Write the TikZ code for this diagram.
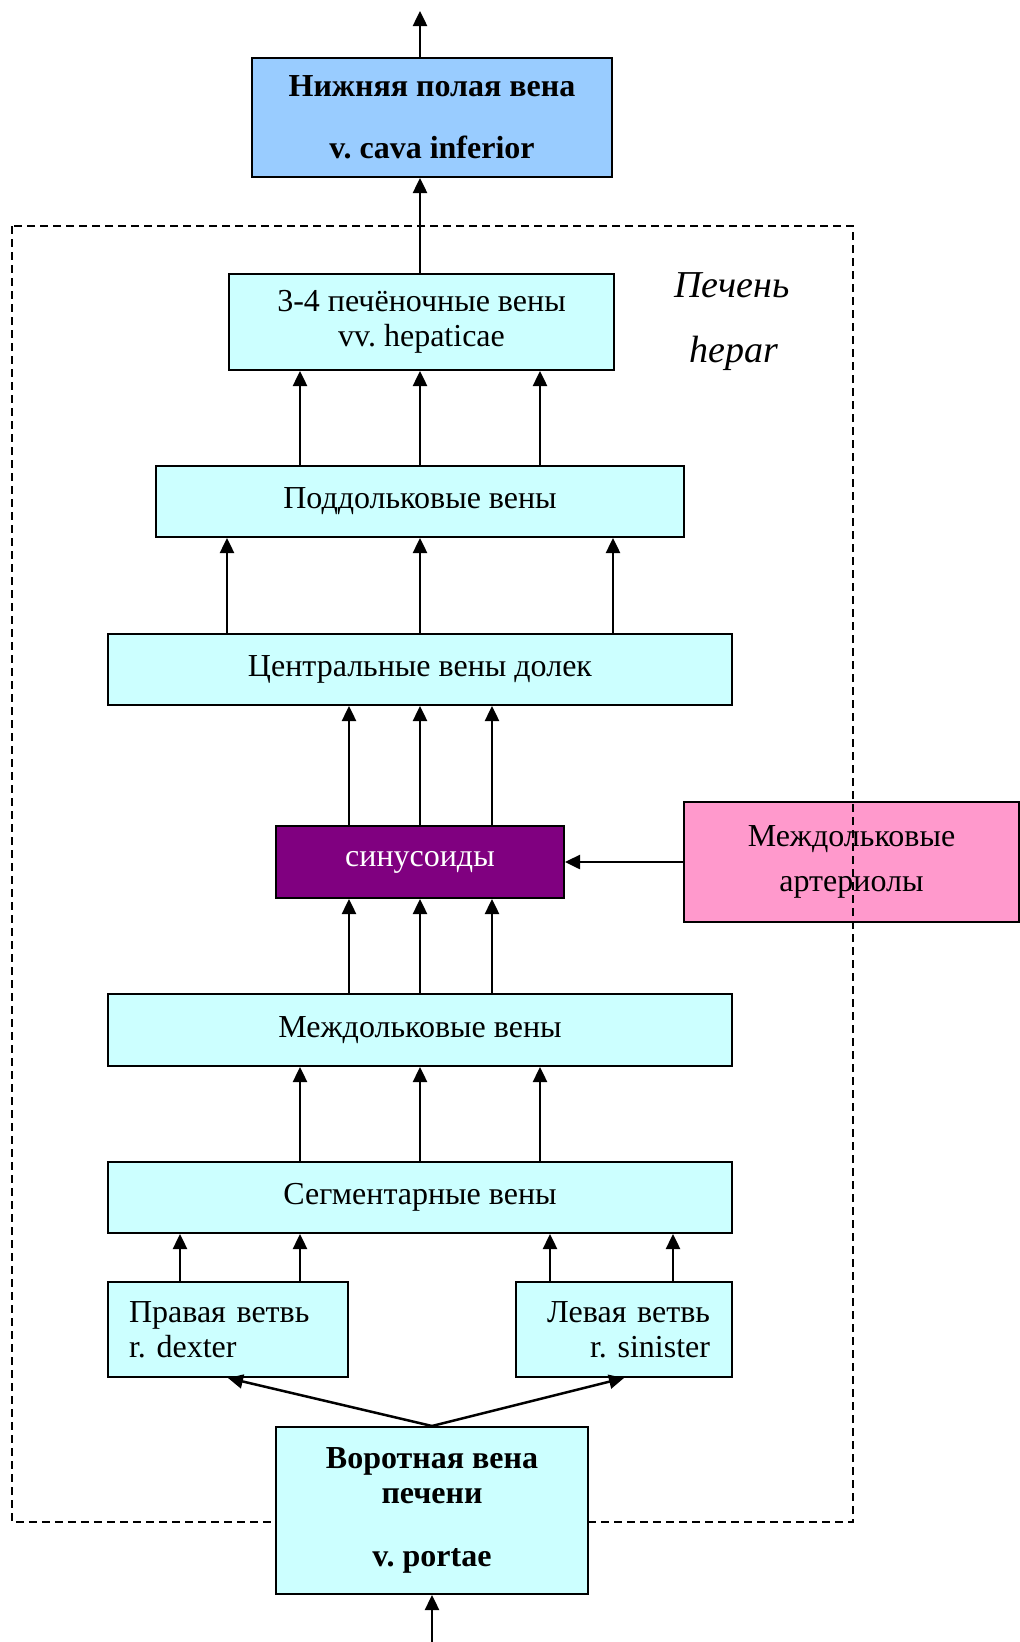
\documentclass[tikz,border=0pt]{standalone}
\usepackage{fontspec}
\setmainfont{Liberation Serif}
\frenchspacing
\definecolor{veinCyan}{HTML}{CCFFFF}
\definecolor{cavaBlue}{HTML}{99CCFF}
\definecolor{sinPurple}{HTML}{800080}
\definecolor{artPink}{HTML}{FF99CC}
\usetikzlibrary{arrows.meta}

\begin{document}
\begin{tikzpicture}[x=1pt,y=-1pt,
  box/.style={draw=black,line width=2pt,fill=veinCyan,inner sep=0pt,align=center,font=\fontsize{32}{35}\selectfont},
  bbox/.style={box,font=\fontsize{32}{35}\selectfont\bfseries},
  flow/.style={black,line width=2.5pt,-{Triangle[length=15pt,width=14pt]}},
  liver/.style={black,line width=1.5pt,dash pattern=on 8pt off 5pt},
  lbl/.style={font=\fontsize{38}{40}\selectfont\itshape}]
  \useasboundingbox (0,0) rectangle (1020,1642);
  \coordinate (out) at (420,11);
  \coordinate (in) at (432,1642);
  % vena cava and liver veins
  \node[bbox,fill=cavaBlue,minimum width=360pt,minimum height=119pt] (ivc) at (432,117.5) {Нижняя полая вена\\[27pt]v. cava inferior};
  \node[box,minimum width=385pt,minimum height=96pt] (hep) at (421.5,322) {3-4 печёночные вены\\vv. hepaticae};
  \node[box,minimum width=528pt,minimum height=71pt] (sub) at (420,501.5) {Поддольковые вены};
  \node[box,minimum width=624pt,minimum height=71pt] (central) at (420,669.5) {Центральные вены долек};
  \node[box,fill=sinPurple,text=white,minimum width=288pt,minimum height=72pt] (sin) at (420,862) {синусоиды};
  \node[box,fill=artPink,minimum width=335pt,minimum height=120pt] (art) at (851.5,862) {Междольковые\\[10pt]артериолы};
  \node[box,minimum width=624pt,minimum height=72pt] (inter) at (420,1030) {Междольковые вены};
  \node[box,minimum width=624pt,minimum height=71pt] (seg) at (420,1197.5) {Сегментарные вены};
  \node[box,align=left,text width=198pt,inner xsep=21pt,minimum height=95pt] (dexter) at (228,1329.5) {Правая ветвь\\r. dexter};
  \node[box,align=right,text width=172pt,inner xsep=22pt,minimum height=95pt] (sinister) at (624,1329.5) {Левая ветвь\\r. sinister};
  % liver outline
  \draw[liver] (12,226) rectangle (853,1522);
  \node[lbl] (pechen) at (732,285) {Печень};
  \node[lbl] (hepar) at (734,353) {hepar};
  \node[bbox,minimum width=312pt,minimum height=167pt] (portal) at (432,1510.5) {Воротная вена\\печени\\[28pt]v. portae};
  % arrows
  \draw[flow] (in) -- (portal.south);
  \draw[flow] (portal.north) -- (dexter.south);
  \draw[flow] (portal.north) -- (sinister.south);
  \foreach \x in {180,300} \draw[flow] (\x,0 |- dexter.north) -- (\x,0 |- seg.south);
  \foreach \x in {550,673} \draw[flow] (\x,0 |- sinister.north) -- (\x,0 |- seg.south);
  \foreach \x in {300,420,540} \draw[flow] (\x,0 |- seg.north) -- (\x,0 |- inter.south);
  \foreach \x in {349,420,492} \draw[flow] (\x,0 |- inter.north) -- (\x,0 |- sin.south);
  \draw[flow] (art.west) -- (sin.east);
  \foreach \x in {349,420,492} \draw[flow] (\x,0 |- sin.north) -- (\x,0 |- central.south);
  \foreach \x in {227,420,613} \draw[flow] (\x,0 |- central.north) -- (\x,0 |- sub.south);
  \foreach \x in {300,420,540} \draw[flow] (\x,0 |- sub.north) -- (\x,0 |- hep.south);
  \draw[flow] (out |- hep.north) -- (out |- ivc.south);
  \draw[flow] (out |- ivc.north) -- (out);
\end{tikzpicture}
\end{document}
